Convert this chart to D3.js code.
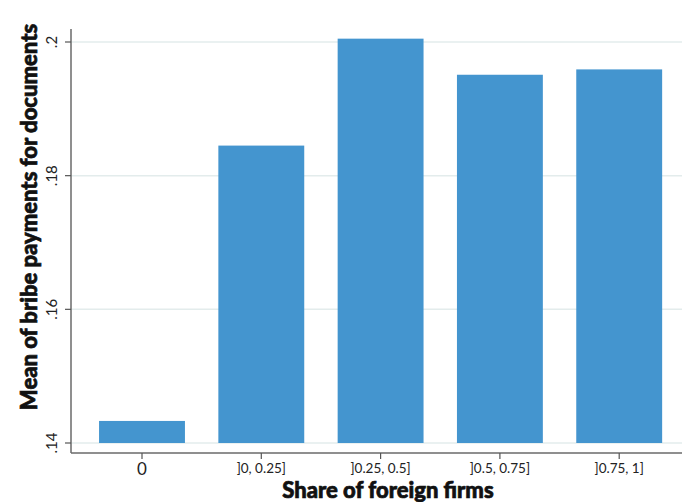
<!DOCTYPE html>
<html>
<head>
<meta charset="utf-8">
<script src="https://cdn.jsdelivr.net/npm/d3@7"></script>
<style>
  body { margin: 0; background: #fff; }
  svg { display: block; font-family: Lato, "Open Sans", sans-serif; }
</style>
</head>
<body>
<svg width="682" height="502"></svg>
<script>
const categories = ["0", "]0, 0.25]", "]0.25, 0.5]", "]0.5, 0.75]", "]0.75, 1]"];
const means = [0.1433, 0.1845, 0.2005, 0.1951, 0.1959];
const yTicks = [0.14, 0.16, 0.18, 0.2];
const yTickLabels = [".14", ".16", ".18", ".2"];

const svg = d3.select("svg");
const plotLeft = 71, plotRight = 682, plotTop = 29, plotBottom = 453;

const x = d3.scaleBand()
  .domain(categories)
  .range([82.35, 678.85])
  .paddingInner(0.28)
  .paddingOuter(0.14);

const y = d3.scaleLinear()
  .domain([0.14, 0.2])
  .range([443, 42]);

// gridlines
svg.append("g")
  .selectAll("line")
  .data(yTicks)
  .join("line")
  .attr("x1", plotLeft).attr("x2", plotRight)
  .attr("y1", d => y(d)).attr("y2", d => y(d))
  .attr("stroke", "#e3ecec")
  .attr("stroke-width", 1.5);

// bars
svg.append("g")
  .selectAll("rect")
  .data(means)
  .join("rect")
  .attr("x", (d, i) => x(categories[i]))
  .attr("width", x.bandwidth())
  .attr("y", d => y(d))
  .attr("height", d => y(0.14) - y(d))
  .attr("fill", "#4495cf");

// y axis
const yAxis = svg.append("g");
yAxis.append("line")
  .attr("x1", plotLeft).attr("x2", plotLeft)
  .attr("y1", plotTop).attr("y2", plotBottom)
  .attr("stroke", "#6a6a6a").attr("stroke-width", 1.5);
yAxis.selectAll("line.tick")
  .data(yTicks)
  .join("line")
  .attr("class", "tick")
  .attr("x1", plotLeft - 6).attr("x2", plotLeft)
  .attr("y1", d => y(d)).attr("y2", d => y(d))
  .attr("stroke", "#555").attr("stroke-width", 1.2);
yAxis.selectAll("text")
  .data(yTicks)
  .join("text")
  .attr("transform", d => `translate(57,${y(d)}) rotate(-90)`)
  .attr("text-anchor", "middle")
  .attr("font-size", 15)
  .attr("font-weight", 400)
  .attr("fill", "#222")
  .text((d, i) => yTickLabels[i]);

// x axis
const xAxis = svg.append("g");
xAxis.append("line")
  .attr("x1", plotLeft).attr("x2", plotRight)
  .attr("y1", plotBottom).attr("y2", plotBottom)
  .attr("stroke", "#6a6a6a").attr("stroke-width", 1.5);
xAxis.selectAll("line.tick")
  .data(categories)
  .join("line")
  .attr("class", "tick")
  .attr("x1", d => x(d) + x.bandwidth() / 2).attr("x2", d => x(d) + x.bandwidth() / 2)
  .attr("y1", plotBottom).attr("y2", plotBottom + 6)
  .attr("stroke", "#555").attr("stroke-width", 1.2);
xAxis.selectAll("text")
  .data(categories)
  .join("text")
  .attr("x", d => x(d) + x.bandwidth() / 2)
  .attr("y", (d, i) => i === 0 ? 475 : 473)
  .attr("text-anchor", "middle")
  .attr("font-size", (d, i) => i === 0 ? 17 : 13.5)
  .attr("font-weight", 400)
  .attr("fill", "#222")
  .text(d => d);

// titles
svg.append("text")
  .attr("x", 388).attr("y", 498)
  .attr("text-anchor", "middle")
  .attr("font-size", 22)
  .attr("font-weight", 900)
  .attr("fill", "#111")
  .attr("stroke", "#111")
  .attr("stroke-width", 0.7)
  .text("Share of foreign firms");

svg.append("text")
  .attr("transform", "translate(37,217) rotate(-90)")
  .attr("text-anchor", "middle")
  .attr("font-size", 22)
  .attr("font-weight", 900)
  .attr("fill", "#111")
  .attr("stroke", "#111")
  .attr("stroke-width", 0.7)
  .text("Mean of bribe payments for documents");
</script>
</body>
</html>
